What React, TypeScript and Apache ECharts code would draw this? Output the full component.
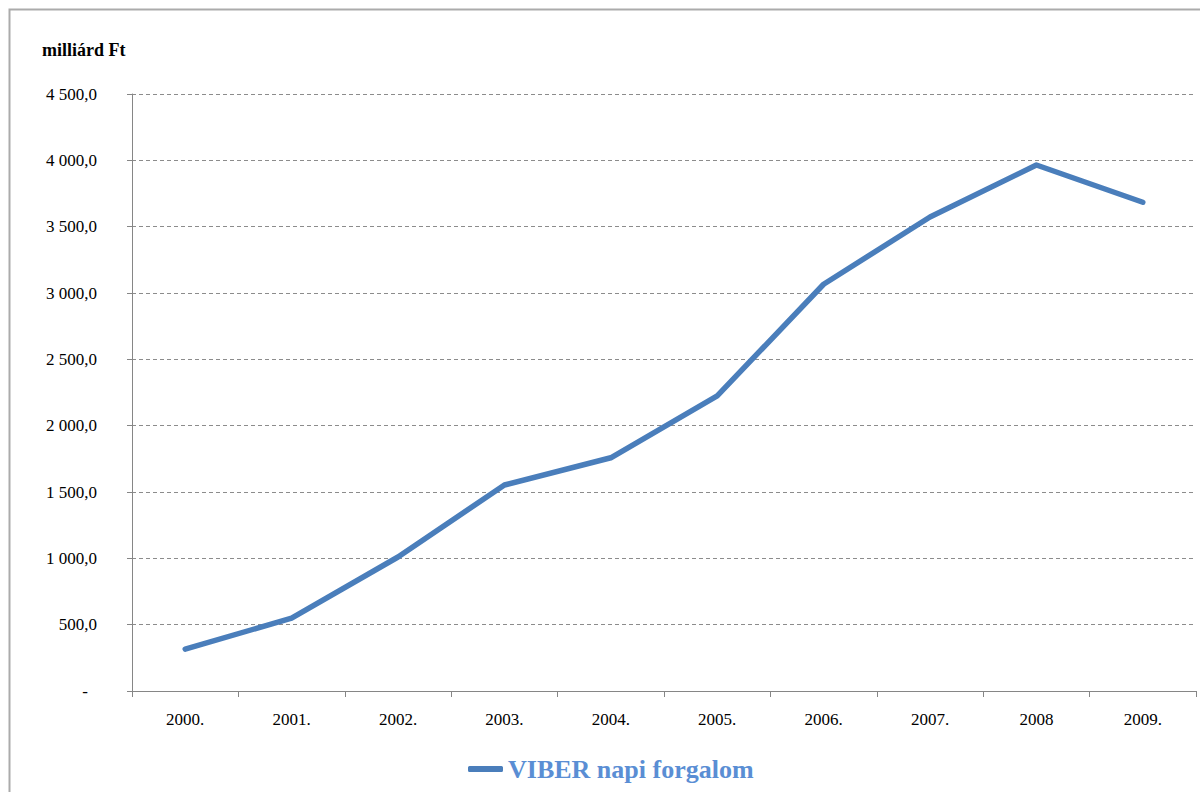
import React, { useEffect, useRef } from "react";
import * as echarts from "echarts";

const categories = ["2000.", "2001.", "2002.", "2003.", "2004.", "2005.", "2006.", "2007.", "2008", "2009."];
const viberValues = [316, 549, 1010, 1553, 1758, 2224, 3066, 3573, 3965, 3684];
const seriesName = "VIBER napi forgalom";
const unitLabel = "milliárd Ft";

const FONT = "'Liberation Serif', 'Times New Roman', serif";

function fmt(v: number): string {
  if (v === 0) return "{z|-}";
  const fixed = v.toFixed(1);
  const [intPart, dec] = fixed.split(".");
  const withSpaces = intPart.replace(/\B(?=(\d{3})+(?!\d))/g, " ");
  return withSpaces + "," + dec;
}

export default function App() {
  const ref = useRef<HTMLDivElement>(null);
  useEffect(() => {
    if (!ref.current) return;
    const chart = echarts.init(ref.current, undefined, { renderer: "svg" });
    chart.setOption({
      animation: false,
      backgroundColor: "#ffffff",
      title: {
        text: unitLabel,
        left: 37,
        top: 36,
        textStyle: { fontFamily: FONT, fontWeight: "bold", fontSize: 18, color: "#000000" },
      },
      graphic: [
        {
          type: "rect",
          shape: { x: 9.5, y: 9.5, width: 1300, height: 900 },
          style: { fill: "none", stroke: "#ababab", lineWidth: 2 },
          silent: true,
        },
      ],
      legend: {
        left: 463,
        top: 751,
        icon: "roundRect",
        itemWidth: 35,
        itemHeight: 6,
        itemGap: 10,
        itemStyle: { color: "#4a7ebb" },
        textStyle: { fontFamily: FONT, fontWeight: "bold", fontSize: 26, color: "#5a8ed4" },
        data: [seriesName],
      },
      grid: { left: 132, right: 4, top: 94, bottom: 101, containLabel: false },
      xAxis: {
        type: "category",
        data: categories,
        boundaryGap: true,
        axisLine: { lineStyle: { color: "#868686", width: 1 } },
        axisTick: { show: true, length: 6, lineStyle: { color: "#868686" } },
        axisLabel: { fontFamily: FONT, fontSize: 17, color: "#000000", margin: 20 },
        splitLine: { show: false },
      },
      yAxis: {
        type: "value",
        min: 0,
        max: 4500,
        interval: 500,
        axisLine: { show: true, lineStyle: { color: "#868686", width: 1 } },
        axisTick: { show: true, length: 5, lineStyle: { color: "#868686" } },
        axisLabel: {
          fontFamily: FONT,
          fontSize: 17,
          color: "#000000",
          margin: 35,
          formatter: (v: number) => fmt(v),
          rich: { z: { fontFamily: FONT, fontSize: 17, color: "#000000", padding: [0, 9, 0, 0] } },
        },
        splitLine: { show: true, lineStyle: { color: "#8c8c8c", type: [4, 3], width: 1 } },
      },
      series: [
        {
          name: seriesName,
          type: "line",
          data: viberValues,
          showSymbol: false,
          symbol: "none",
          lineStyle: { color: "#4a7ebb", width: 5.5, cap: "round", join: "round" },
          itemStyle: { color: "#4a7ebb" },
        },
      ],
    });
    return () => chart.dispose();
  }, []);
  return (
    <div
      ref={ref}
      style={{ position: "fixed", left: 0, top: 0, width: 1200, height: 792 }}
    />
  );
}
